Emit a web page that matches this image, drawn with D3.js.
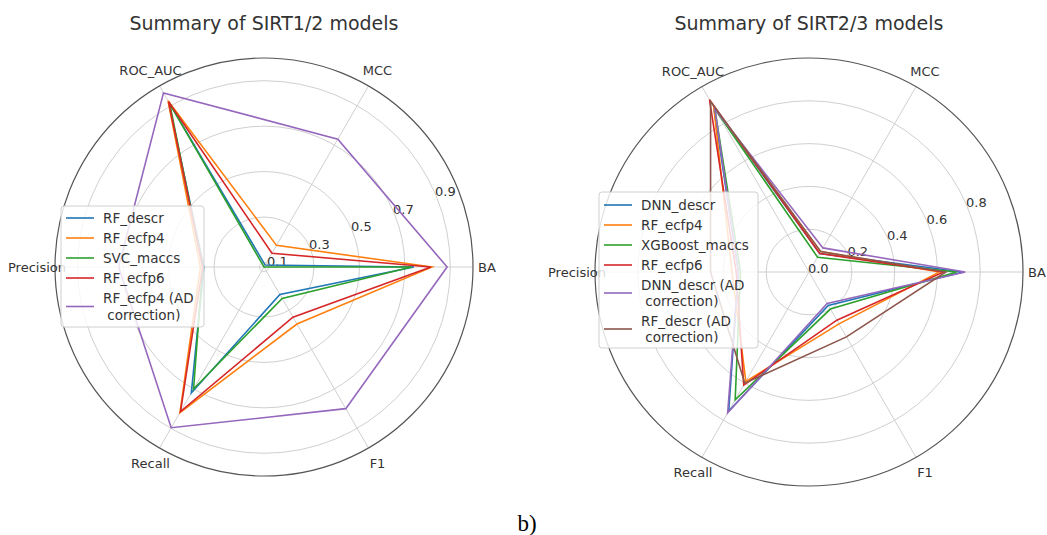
<!DOCTYPE html>
<html>
<head>
<meta charset="utf-8">
<script src="https://cdn.jsdelivr.net/npm/d3@7"></script>
<style>
  body { margin: 0; background: #fff; }
  text { font-family: 'DejaVu Sans', sans-serif; fill: #333; }
</style>
</head>
<body>
<svg></svg>
<script>
const size = {w: 1047, h: 535};

// radar axes, counter-clockwise starting at 3 o'clock
const axisLabels = ['BA', 'MCC', 'ROC_AUC', 'Precision', 'Recall', 'F1'];

// SIRT1/2 panel
const leftNames = ['RF_descr', 'RF_ecfp4', 'SVC_maccs', 'RF_ecfp6', 'RF_ecfp4 (AD\n correction)'];
const leftRfDescr   = [0.74, 0.09, 0.92, 0.345, 0.72, 0.22];
const leftRfEcfp4   = [0.82, 0.19, 0.925, 0.36, 0.82, 0.37];
const leftSvcMaccs  = [0.73, 0.08, 0.91, 0.35, 0.70, 0.24];
const leftRfEcfp6   = [0.815, 0.15, 0.92, 0.35, 0.815, 0.335];
const leftRfEcfp4AD = [0.886, 0.73, 0.965, 0.72, 0.897, 0.80];
const leftTicks = [0.1, 0.3, 0.5, 0.7, 0.9];

// SIRT2/3 panel
const rightNames = ['DNN_descr', 'RF_ecfp4', 'XGBoost_maccs', 'RF_ecfp6', 'DNN_descr (AD\n correction)', 'RF_descr (AD\n correction)'];
const rightDnnDescr   = [0.72, 0.10, 0.89, 0.33, 0.75, 0.18];
const rightRfEcfp4    = [0.61, 0.11, 0.89, 0.36, 0.59, 0.28];
const rightXgbMaccs   = [0.69, 0.08, 0.88, 0.32, 0.69, 0.20];
const rightRfEcfp6    = [0.63, 0.10, 0.93, 0.34, 0.61, 0.26];
const rightDnnDescrAD = [0.73, 0.13, 0.88, 0.33, 0.76, 0.17];
const rightRfDescrAD  = [0.64, 0.11, 0.92, 0.46, 0.60, 0.35];
const rightTicks = [0.0, 0.2, 0.4, 0.6, 0.8];

const colors = d3.schemeCategory10;

const svg = d3.select('svg')
    .attr('width', size.w)
    .attr('height', size.h);

svg.append('rect').attr('width', size.w).attr('height', size.h).attr('fill', '#fff');

function drawRadar(cfg) {
    const g = svg.append('g').attr('transform', `translate(${cfg.cx},${cfg.cy})`);

    const r = d3.scaleLinear().domain([cfg.rmin, 1]).range([0, cfg.R]);
    // d3 radial angles are clockwise from 12 o'clock
    const angle = d3.scaleLinear().domain([0, axisLabels.length]).range([Math.PI / 2, Math.PI / 2 - 2 * Math.PI]);

    g.selectAll('circle.grid')
        .data(cfg.ticks.filter(t => r(t) > 0.5))
        .join('circle')
        .classed('grid', true)
        .attr('r', d => r(d))
        .attr('fill', 'none')
        .attr('stroke', '#d0d0d0')
        .attr('stroke-width', 1);

    g.selectAll('line.spoke')
        .data(axisLabels)
        .join('line')
        .classed('spoke', true)
        .attr('x1', 0).attr('y1', 0)
        .attr('x2', (d, i) => cfg.R * Math.sin(angle(i)))
        .attr('y2', (d, i) => -cfg.R * Math.cos(angle(i)))
        .attr('stroke', '#d0d0d0')
        .attr('stroke-width', 1);

    g.append('circle')
        .attr('r', cfg.R)
        .attr('fill', 'none')
        .attr('stroke', '#555')
        .attr('stroke-width', 1.2);

    // radial tick labels at 22.5 degrees
    const la = Math.PI / 2 - Math.PI / 8;
    g.selectAll('text.rtick')
        .data(cfg.ticks)
        .join('text')
        .classed('rtick', true)
        .attr('x', d => (r(d) + 10) * Math.sin(la))
        .attr('y', d => -(r(d) + 10) * Math.cos(la))
        .attr('text-anchor', 'middle')
        .attr('dominant-baseline', 'central')
        .attr('font-size', 13)
        .text(d => d3.format('.1f')(d));

    // the label at 3 o'clock starts just past the spine, others are centred
    g.selectAll('text.axis')
        .data(axisLabels)
        .join('text')
        .classed('axis', true)
        .attr('x', (d, i) => i === 0 ? cfg.R + 5 : (cfg.R + 18) * Math.sin(angle(i)))
        .attr('y', (d, i) => i === 0 ? 0 : -(cfg.R + 18) * Math.cos(angle(i)))
        .attr('text-anchor', (d, i) => i === 0 ? 'start' : 'middle')
        .attr('dominant-baseline', 'central')
        .attr('font-size', 13)
        .text(d => d);

    const line = d3.lineRadial()
        .angle((d, i) => angle(i))
        .radius(d => r(d))
        .curve(d3.curveLinearClosed);

    g.selectAll('path.series')
        .data(cfg.series)
        .join('path')
        .classed('series', true)
        .attr('d', d => line(d))
        .attr('fill', 'none')
        .attr('stroke', (d, i) => colors[i])
        .attr('stroke-width', 1.6);

    svg.append('text')
        .attr('x', cfg.cx)
        .attr('y', 23)
        .attr('text-anchor', 'middle')
        .attr('dominant-baseline', 'central')
        .attr('font-size', 19)
        .text(cfg.title);

    // legend
    const lg = svg.append('g').attr('transform', `translate(${cfg.legend.x},${cfg.legend.y})`);
    lg.append('rect')
        .attr('width', cfg.legend.w)
        .attr('height', cfg.legend.h)
        .attr('rx', 3)
        .attr('fill', '#fff')
        .attr('fill-opacity', 0.82)
        .attr('stroke', '#d0d0d0');

    let y = cfg.legend.first;
    cfg.names.forEach((name, i) => {
        const lines = name.split('\n');
        const mid = y + (lines.length - 1) * cfg.legend.lineGap / 2;
        lg.append('line')
            .attr('x1', 5).attr('x2', 33)
            .attr('y1', mid).attr('y2', mid)
            .attr('stroke', colors[i])
            .attr('stroke-width', 1.6);
        lines.forEach((t, k) => {
            lg.append('text')
                .attr('x', 42)
                .attr('y', y + k * cfg.legend.lineGap)
                .attr('dominant-baseline', 'central')
                .attr('font-size', 13.5)
                .attr('xml:space', 'preserve')
                .style('white-space', 'pre')
                .text(t);
        });
        y += (lines.length - 1) * cfg.legend.lineGap + cfg.legend.rowGap;
    });
}

drawRadar({
    cx: 264, cy: 267, R: 209, rmin: 0.08,
    ticks: leftTicks,
    title: 'Summary of SIRT1/2 models',
    names: leftNames,
    series: [leftRfDescr, leftRfEcfp4, leftSvcMaccs, leftRfEcfp6, leftRfEcfp4AD],
    legend: {x: 61, y: 206, w: 143, h: 121, first: 12, rowGap: 20, lineGap: 17}
});

drawRadar({
    cx: 809, cy: 272, R: 214, rmin: 0,
    ticks: rightTicks,
    title: 'Summary of SIRT2/3 models',
    names: rightNames,
    series: [rightDnnDescr, rightRfEcfp4, rightXgbMaccs, rightRfEcfp6, rightDnnDescrAD, rightRfDescrAD],
    legend: {x: 599, y: 192, w: 159, h: 156, first: 13, rowGap: 20, lineGap: 16}
});

svg.append('text')
    .attr('x', 527)
    .attr('y', 531)
    .attr('text-anchor', 'middle')
    .attr('font-size', 23)
    .style('font-family', "'Liberation Serif', 'Times New Roman', serif")
    .style('fill', '#000')
    .text('b)');
</script>
</body>
</html>
